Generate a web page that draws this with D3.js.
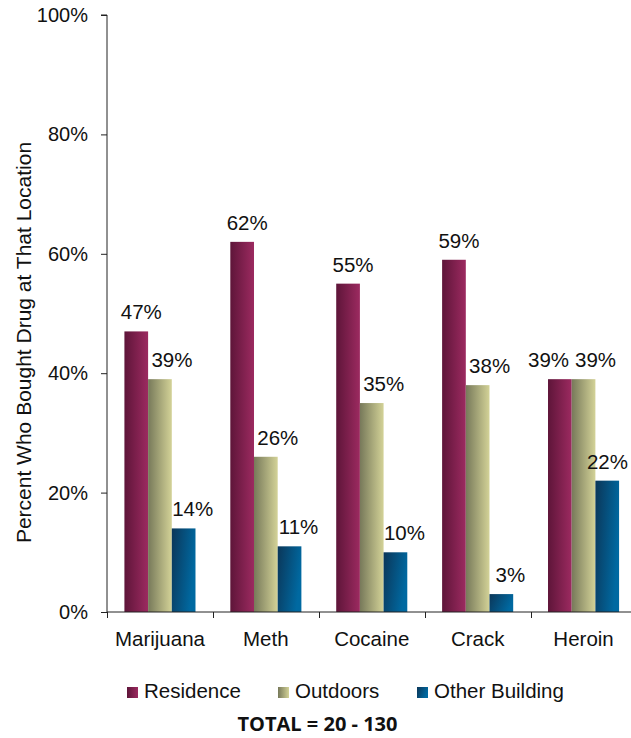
<!DOCTYPE html>
<html>
<head>
<meta charset="utf-8">
<script src="https://cdn.jsdelivr.net/npm/d3@7"></script>
<style>
  html, body { margin: 0; padding: 0; background: #fff; }
  svg { display: block; }
  text { font-family: "Liberation Sans", Arial, sans-serif; fill: #111; }
</style>
</head>
<body>
<svg id="chart" width="631" height="738"></svg>
<script>
// Drug purchase locations, percent of buyers per drug
const drugs = ["Marijuana", "Meth", "Cocaine", "Crack", "Heroin"];
const seriesNames = ["Residence", "Outdoors", "Other Building"];
const residence = [47, 62, 55, 59, 39];
const outdoors = [39, 26, 35, 38, 39];
const otherBuilding = [14, 11, 10, 3, 22];
const yTicks = [0, 20, 40, 60, 80, 100];
const yTitle = "Percent Who Bought Drug at That Location";
const footnote = "TOTAL = 20 - 130";

const seriesValues = [residence, outdoors, otherBuilding];

const svg = d3.select("#chart");
const W = 631, H = 738;
const margin = { left: 107, right: -5.5, top: 15, bottom: 126 };

const x = d3.scaleBand()
  .domain(drugs)
  .range([margin.left, W - margin.right])
  .paddingInner(0)
  .paddingOuter(0);

const xs = d3.scaleBand()
  .domain(seriesNames)
  .range([0, x.bandwidth()])
  .paddingOuter(0.735)
  .paddingInner(0);

const y = d3.scaleLinear()
  .domain([0, 100])
  .range([H - margin.bottom, margin.top]);

// Bar fills: dark at the left edge, lighter at the right
const defs = svg.append("defs");
const gradients = [
  { id: "g-res", x2: "100%", y2: "0%", stops: ["#5e1539", "#9c2a60"] },
  { id: "g-out", x2: "100%", y2: "0%", stops: ["#77795a", "#d3d297"] },
  { id: "g-oth", x2: "100%", y2: "35%", stops: ["#0b3658", "#0069a1"] }
];
gradients.forEach(g => {
  const lg = defs.append("linearGradient")
    .attr("id", g.id)
    .attr("x1", "0%").attr("y1", "0%")
    .attr("x2", g.x2).attr("y2", g.y2);
  lg.append("stop").attr("offset", "0%").attr("stop-color", g.stops[0]);
  lg.append("stop").attr("offset", "100%").attr("stop-color", g.stops[1]);
});

// Y axis
const yAxis = d3.axisLeft(y)
  .tickValues(yTicks)
  .tickFormat(d => d + "%")
  .tickSize(6)
  .tickPadding(13);
const gy = svg.append("g")
  .attr("transform", `translate(${margin.left},0)`)
  .call(yAxis);
gy.select(".domain").attr("stroke", "#222").attr("d", `M-6,${y(100)}H0V${y(0)}`);
gy.selectAll(".tick line").attr("stroke", "#222");
gy.selectAll(".tick text")
  .style("font-family", "'Liberation Sans', Arial, sans-serif")
  .style("font-size", "20px")
  .attr("fill", "#111");

// Y axis title
svg.append("text")
  .attr("transform", `translate(31,${(y(0) + y(100)) / 2 + 29}) rotate(-90)`)
  .attr("text-anchor", "middle")
  .style("font-size", "21px")
  .text(yTitle);

// Bars
const groups = svg.append("g").selectAll("g")
  .data(drugs)
  .join("g")
  .attr("transform", d => `translate(${x(d)},0)`);

const barData = (d, i) => seriesNames.map((s, k) => ({ drug: d, series: s, k, value: seriesValues[k][i] }));

groups.selectAll("rect")
  .data(barData)
  .join("rect")
  .attr("x", d => xs(d.series))
  .attr("width", xs.bandwidth())
  .attr("y", d => y(d.value))
  .attr("height", d => y(0) - y(d.value))
  .attr("fill", d => `url(#${gradients[d.k].id})`);

// X axis: baseline with ticks at category boundaries
const gx = svg.append("g").attr("transform", `translate(0,${y(0)})`);
gx.append("line")
  .attr("x1", margin.left).attr("x2", W)
  .attr("stroke", "#222");
gx.selectAll("line.tk")
  .data(drugs)
  .join("line")
  .attr("class", "tk")
  .attr("x1", d => Math.round(x(d)) + 0.5)
  .attr("x2", d => Math.round(x(d)) + 0.5)
  .attr("y1", 0).attr("y2", 6)
  .attr("stroke", "#222");
gx.selectAll("text")
  .data(drugs)
  .join("text")
  .attr("x", d => x(d) + x.bandwidth() / 2)
  .attr("y", 33.5)
  .attr("text-anchor", "middle")
  .style("font-size", "20.5px")
  .text(d => d);

// Value labels above each bar, nudged right; overlapping neighbours pushed apart
// and kept inside the right edge of the drawing
const labelShift = [5, 12, 9];
groups.each(function (d, i) {
  const g = d3.select(this);
  const gx0 = x(d);
  const items = barData(d, i);
  const labels = g.selectAll("text.val")
    .data(items)
    .join("text")
    .attr("class", "val")
    .attr("text-anchor", "middle")
    .attr("y", b => y(b.value) - 12)
    .style("font-size", "20.5px")
    .text(b => b.value + "%");
  const nodes = labels.nodes();
  const w = nodes.map(n => n.getComputedTextLength());
  const cx = items.map((b, k) => Math.min(
    xs(b.series) + xs.bandwidth() / 2 + labelShift[k],
    W - gx0 - w[k] / 2 - 3));
  for (let k = items.length - 2; k >= 0; k--) {
    const sameRow = Math.abs(y(items[k].value) - y(items[k + 1].value)) < 20;
    const minGap = (w[k] + w[k + 1]) / 2 + 6;
    if (sameRow && cx[k + 1] - cx[k] < minGap) cx[k] = cx[k + 1] - minGap;
  }
  labels.attr("x", (b, k) => cx[k]);
});

// Legend
const legendX = [127, 278, 417];
const legend = svg.append("g").selectAll("g")
  .data(seriesNames)
  .join("g")
  .attr("transform", (d, k) => `translate(${legendX[k]},687)`);
legend.append("rect")
  .attr("width", 11).attr("height", 11)
  .attr("fill", (d, k) => `url(#${gradients[k].id})`);
legend.append("text")
  .attr("x", 17).attr("y", 10.5)
  .style("font-size", "20.5px")
  .text(d => d);

// Footnote
svg.append("text")
  .attr("x", 317.5).attr("y", 731)
  .attr("text-anchor", "middle")
  .style("font-family", "'Open Sans', sans-serif")
  .style("font-weight", "bold")
  .style("font-size", "20px")
  .text(footnote);
</script>
</body>
</html>
